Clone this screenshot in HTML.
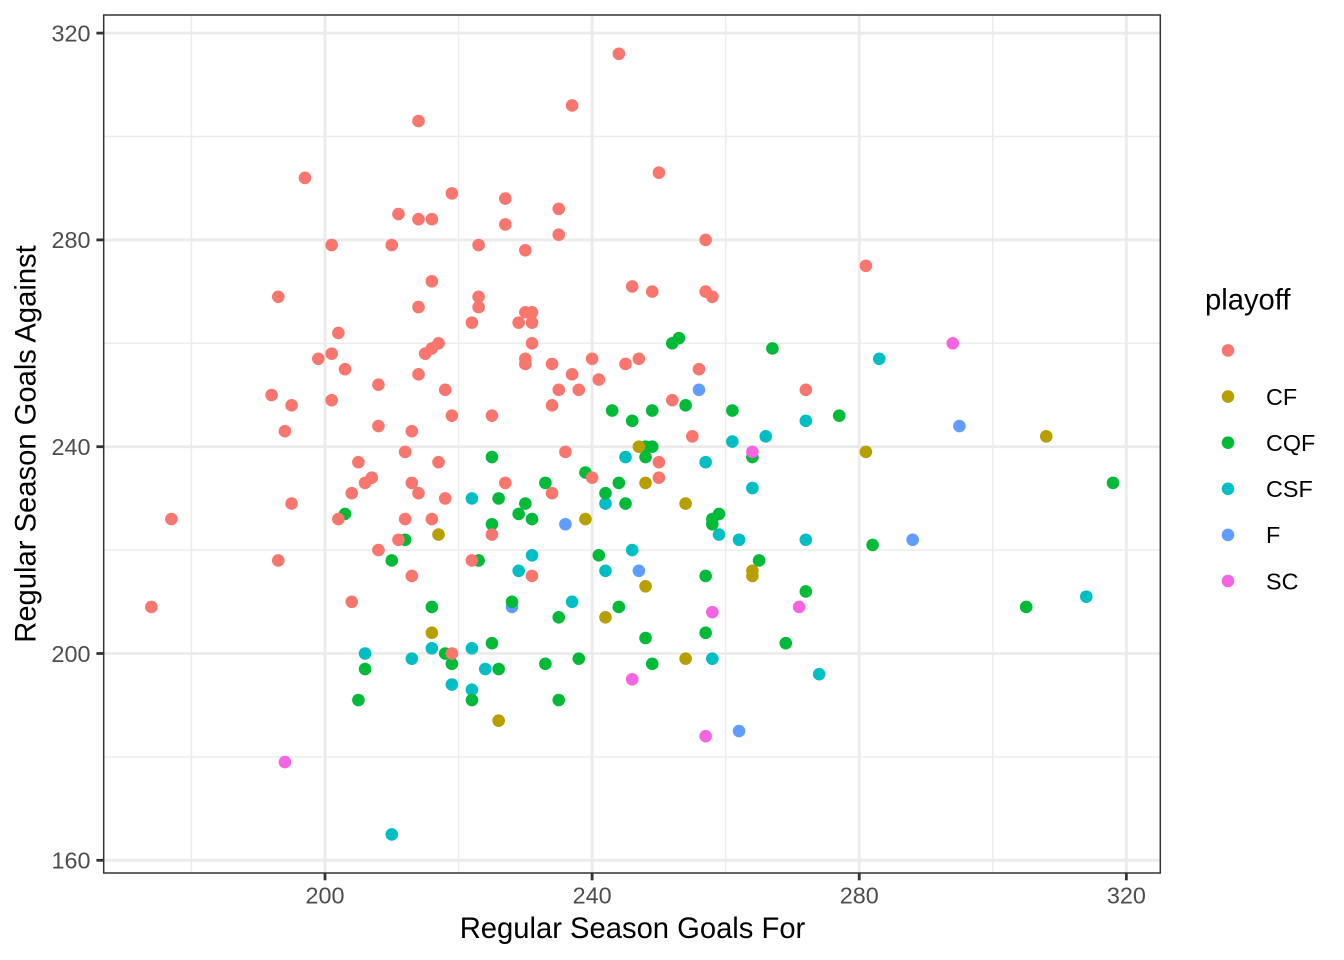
<!DOCTYPE html>
<html>
<head>
<meta charset="utf-8">
<title>Regular Season Goals</title>
<style>
html,body{margin:0;padding:0;background:#fff;}
svg{display:block;}
text{font-family:"Liberation Sans",Arial,sans-serif;}
</style>
</head>
<body>
<svg id="chart" xmlns="http://www.w3.org/2000/svg" width="1344" height="960" viewBox="0 0 1344 960"></svg>
<script>
const xMajorTicks = [200, 240, 280, 320];
const yMajorTicks = [160, 200, 240, 280, 320];
const xMinorTicks = [180, 220, 260, 300];
const yMinorTicks = [180, 220, 260, 300];
const legendGroups = ["", "CF", "CQF", "CSF", "F", "SC"];
const drawOrder = ["F", "CSF", "CQF", "CF", "", "SC"];
const seriesNone = [[174,209],[177,226],[192,250],[193,269],[193,218],[194,243],[195,248],[195,229],[197,292],[199,257],[201,279],[201,258],[201,249],[202,262],[202,226],[203,255],[204,210],[204,231],[205,237],[206,233],[207,234],[208,252],[208,244],[208,220],[210,279],[211,285],[211,222],[212,239],[212,226],[213,243],[213,233],[213,215],[214,303],[214,284],[214,267],[214,254],[214,231],[215,258],[216,284],[216,272],[216,259],[216,226],[217,260],[217,237],[218,251],[218,230],[219,289],[219,246],[219,200],[222,264],[222,218],[223,279],[223,269],[223,267],[225,246],[225,223],[227,288],[227,283],[227,233],[229,264],[230,278],[230,266],[230,257],[230,256],[231,266],[231,264],[231,260],[231,215],[234,256],[234,248],[234,231],[235,286],[235,281],[235,251],[236,239],[237,306],[237,254],[238,251],[240,257],[240,234],[241,253],[244,316],[245,256],[246,271],[247,257],[249,270],[250,293],[250,237],[250,234],[252,249],[255,242],[256,255],[257,280],[257,270],[258,269],[272,251],[281,275]];
const seriesCF = [[217,223],[216,204],[226,187],[239,226],[242,207],[247,240],[248,233],[248,213],[254,229],[254,199],[264,216],[264,215],[281,239],[308,242]];
const seriesCQF = [[203,227],[206,197],[205,191],[210,218],[212,222],[216,209],[218,200],[219,198],[222,191],[223,218],[225,238],[225,225],[225,202],[226,230],[226,197],[228,210],[229,227],[230,229],[231,226],[233,233],[233,198],[235,207],[235,191],[238,199],[239,235],[241,219],[242,231],[243,247],[244,233],[244,209],[245,229],[246,245],[248,238],[248,240],[248,203],[249,240],[249,247],[249,198],[252,260],[253,261],[254,248],[257,215],[257,204],[258,226],[258,225],[259,227],[261,247],[264,238],[265,218],[267,259],[269,202],[272,212],[277,246],[282,221],[305,209],[318,233]];
const seriesCSF = [[206,200],[210,165],[213,199],[216,201],[219,194],[222,230],[222,201],[222,193],[224,197],[229,216],[231,219],[237,210],[242,229],[242,216],[245,238],[246,220],[257,237],[258,199],[259,223],[261,241],[262,222],[264,232],[266,242],[272,245],[272,222],[274,196],[283,257],[314,211]];
const seriesF = [[228,209],[236,225],[247,216],[256,251],[262,185],[288,222],[295,244]];
const seriesSC = [[194,179],[246,195],[257,184],[258,208],[264,239],[271,209],[294,260]];
const seriesByGroup = {"": seriesNone, "CF": seriesCF, "CQF": seriesCQF, "CSF": seriesCSF, "F": seriesF, "SC": seriesSC};
const groupColors = {"": "#F8766D", "CF": "#B79F00", "CQF": "#00BA38", "CSF": "#00BFC4", "F": "#619CFF", "SC": "#F564E3"};

const svgNS = "http://www.w3.org/2000/svg";
const chart = document.getElementById("chart");
const panel = {left: 103.7, right: 1160.3, top: 15, bottom: 873};
function xScale(v){ return 325 + (v - 200) * 6.678; }
function yScale(v){ return 860.3 - (v - 160) * 5.17; }
function make(tag, attrs, text){
  const el = document.createElementNS(svgNS, tag);
  for (const k in attrs) el.setAttribute(k, attrs[k]);
  if (text !== undefined) el.textContent = text;
  chart.appendChild(el);
  return el;
}
let el;

el = make("rect", {x: panel.left, y: panel.top, width: panel.right - panel.left, height: panel.bottom - panel.top, fill: "#fff"});



xMinorTicks.forEach(function(t){
  const g = make("line", {x1: xScale(t), x2: xScale(t), y1: panel.top, y2: panel.bottom, stroke: "#EBEBEB", "stroke-width": 1.42});
  
  
});
yMinorTicks.forEach(function(t){
  const g = make("line", {x1: panel.left, x2: panel.right, y1: yScale(t), y2: yScale(t), stroke: "#EBEBEB", "stroke-width": 1.42});
  
  
});
xMajorTicks.forEach(function(t){
  const g = make("line", {x1: xScale(t), x2: xScale(t), y1: panel.top, y2: panel.bottom, stroke: "#EBEBEB", "stroke-width": 2.84});
  
  
});
yMajorTicks.forEach(function(t){
  const g = make("line", {x1: panel.left, x2: panel.right, y1: yScale(t), y2: yScale(t), stroke: "#EBEBEB", "stroke-width": 2.84});
  
  
});

drawOrder.forEach(function(group){
  seriesByGroup[group].forEach(function(p){
    const c = make("circle", {cx: xScale(p[0]), cy: yScale(p[1]), r: 6.3, fill: groupColors[group]});
    
    
  });
});

el = make("rect", {x: panel.left, y: panel.top, width: panel.right - panel.left, height: panel.bottom - panel.top, fill: "none", stroke: "#333333", "stroke-width": 1.5});



xMajorTicks.forEach(function(t){
  const m = make("line", {x1: xScale(t), x2: xScale(t), y1: panel.bottom, y2: panel.bottom + 7.3, stroke: "#333333", "stroke-width": 2.8});
  
  
  const l = make("text", {x: xScale(t), y: 903.6, "text-anchor": "middle", "font-size": 23.36, fill: "#4D4D4D"}, String(t));
  
  
});
yMajorTicks.forEach(function(t){
  const m = make("line", {x1: panel.left - 7.3, x2: panel.left, y1: yScale(t), y2: yScale(t), stroke: "#333333", "stroke-width": 2.8});
  
  
  const l = make("text", {x: 90.5, y: yScale(t) + 8.3, "text-anchor": "end", "font-size": 23.36, fill: "#4D4D4D"}, String(t));
  
  
});

el = make("text", {x: 632.5, y: 938, "text-anchor": "middle", "font-size": 29.2, fill: "#000"}, "Regular Season Goals For");



el = make("text", {x: 0, y: 0, transform: "translate(35.5,444) rotate(-90)", "text-anchor": "middle", "font-size": 29.2, fill: "#000"}, "Regular Season Goals Against");



el = make("text", {x: 1205, y: 309.5, "font-size": 29.2, fill: "#000"}, "playoff");



legendGroups.forEach(function(group, i){
  const ly = 350.4 + i * 46.13;
  const d = make("circle", {cx: 1228, cy: ly, r: 6.3, fill: groupColors[group]});
  
  
  if (group !== "") {
    const t = make("text", {x: 1266, y: ly + 8.3, "font-size": 23.36, fill: "#000"}, group);
    
    
  }
});
</script>
</body>
</html>
